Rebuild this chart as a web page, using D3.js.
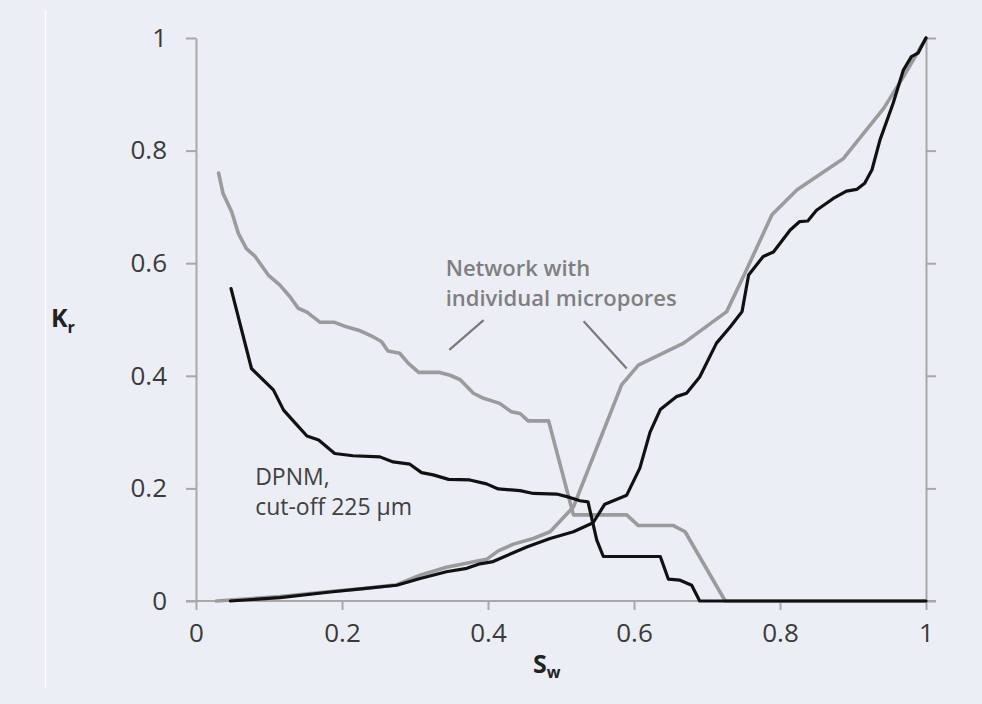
<!DOCTYPE html>
<html>
<head>
<meta charset="utf-8">
<script src="https://cdn.jsdelivr.net/npm/d3@7"></script>
<style>
  html, body { margin: 0; padding: 0; background: #eceef5; }
  svg { display: block; }
  text { font-family: "Open Sans", Lato, sans-serif; }
</style>
</head>
<body>
<svg id="chart" width="982" height="704"></svg>
<script>
// Relative permeability curves: [Sw, Kr] pairs
const netKrw = [[0.031,0.760],[0.037,0.724],[0.049,0.691],[0.058,0.653],[0.069,0.626],[0.081,0.612],[0.099,0.579],[0.115,0.561],[0.129,0.540],[0.140,0.520],[0.152,0.513],[0.170,0.495],[0.190,0.495],[0.206,0.487],[0.225,0.480],[0.243,0.469],[0.254,0.461],[0.263,0.444],[0.279,0.440],[0.291,0.422],[0.305,0.406],[0.334,0.406],[0.348,0.401],[0.362,0.393],[0.380,0.369],[0.394,0.360],[0.416,0.351],[0.432,0.336],[0.444,0.333],[0.455,0.320],[0.483,0.320],[0.517,0.153],[0.590,0.153],[0.606,0.134],[0.654,0.134],[0.670,0.123],[0.725,0],[1,0]];
const netKrnw = [[0.028,0],[0.115,0.008],[0.184,0.017],[0.229,0.022],[0.275,0.029],[0.307,0.046],[0.343,0.060],[0.362,0.065],[0.389,0.072],[0.398,0.074],[0.414,0.089],[0.435,0.101],[0.462,0.111],[0.485,0.123],[0.517,0.167],[0.583,0.384],[0.606,0.419],[0.668,0.458],[0.727,0.514],[0.754,0.588],[0.789,0.686],[0.823,0.730],[0.887,0.786],[0.942,0.875],[0.969,0.931],[1,1]];
const dpnmKrw = [[0.048,0.555],[0.076,0.413],[0.106,0.375],[0.120,0.339],[0.136,0.316],[0.152,0.293],[0.168,0.286],[0.190,0.262],[0.215,0.258],[0.252,0.256],[0.270,0.247],[0.293,0.243],[0.309,0.228],[0.325,0.224],[0.346,0.216],[0.375,0.215],[0.398,0.208],[0.414,0.199],[0.444,0.196],[0.462,0.191],[0.494,0.190],[0.512,0.184],[0.526,0.178],[0.537,0.176],[0.549,0.108],[0.558,0.079],[0.636,0.079],[0.647,0.039],[0.663,0.037],[0.679,0.028],[0.690,0],[1,0]];
const dpnmKrnw = [[0.047,0],[0.115,0.006],[0.184,0.016],[0.229,0.022],[0.275,0.028],[0.307,0.040],[0.343,0.052],[0.371,0.058],[0.389,0.066],[0.407,0.070],[0.453,0.096],[0.485,0.111],[0.517,0.123],[0.544,0.139],[0.560,0.172],[0.590,0.188],[0.608,0.236],[0.622,0.300],[0.636,0.340],[0.658,0.363],[0.672,0.369],[0.690,0.398],[0.713,0.458],[0.732,0.487],[0.748,0.514],[0.757,0.579],[0.777,0.612],[0.791,0.620],[0.814,0.659],[0.827,0.674],[0.838,0.675],[0.850,0.694],[0.873,0.715],[0.891,0.728],[0.905,0.731],[0.916,0.742],[0.926,0.766],[0.937,0.819],[0.955,0.884],[0.969,0.943],[0.980,0.967],[0.989,0.973],[1,1]];

const xTicks = [0, 0.2, 0.4, 0.6, 0.8, 1];
const yTicks = [0, 0.2, 0.4, 0.6, 0.8, 1];

// Annotation leaders and labels (data coordinates)
const netLeaders = [[[0.347,0.446],[0.394,0.499]], [[0.531,0.497],[0.590,0.413]]];
const netLabel = ["Network with", "individual micropores"];
const dpnmLabel = ["DPNM,", "cut-off 225 µm"];

const svg = d3.select("#chart");
const plotL = 196, plotR = 926, plotT = 38, plotB = 601;

const x = d3.scaleLinear().domain([0, 1]).range([plotL, plotR]);
const y = d3.scaleLinear().domain([0, 1]).range([plotB, plotT]);

// thin white frame edge on the left
svg.append("line").attr("x1", 45.5).attr("x2", 45.5).attr("y1", 10).attr("y2", 688)
  .attr("stroke", "#ffffff").attr("stroke-width", 1.5);

const axisColor = "#a8a8a8";
function styleAxis(g) {
  g.select(".domain").attr("stroke", axisColor).attr("stroke-width", 2);
  g.selectAll(".tick line").attr("stroke", axisColor).attr("stroke-width", 2);
  g.selectAll(".tick text").attr("fill", "#3a3a3a").style("font-size", "26px")
    .style("font-family", "'Open Sans', sans-serif");
}

// left axis
svg.append("g").attr("transform", `translate(${plotL},0)`)
  .call(d3.axisLeft(y).tickValues(yTicks).tickFormat(d3.format("~g")).tickSize(10).tickSizeOuter(0).tickPadding(19))
  .call(styleAxis);

// right axis (ticks only)
svg.append("g").attr("transform", `translate(${plotR},0)`)
  .call(d3.axisRight(y).tickValues(yTicks).tickFormat("").tickSize(10).tickSizeOuter(0))
  .call(styleAxis);

// bottom axis
const xg = svg.append("g").attr("transform", `translate(0,${plotB})`)
  .call(d3.axisBottom(x).tickValues(xTicks).tickFormat(d3.format("~g")).tickSize(9).tickSizeOuter(0).tickPadding(14))
  .call(styleAxis);
xg.select(".domain").attr("d", `M${plotL - 10},0H${plotR + 10}`);

// curves
const line = d3.line().x(d => x(d[0])).y(d => y(d[1])).curve(d3.curveLinear);
const grey = "#9b9b9b", black = "#111111";
[netKrw, netKrnw].forEach(s => svg.append("path").datum(s).attr("d", line)
  .attr("fill", "none").attr("stroke", grey).attr("stroke-width", 3.6)
  .attr("stroke-linejoin", "round").attr("stroke-linecap", "round"));
[dpnmKrw, dpnmKrnw].forEach(s => svg.append("path").datum(s).attr("d", line)
  .attr("fill", "none").attr("stroke", black).attr("stroke-width", 3.2)
  .attr("stroke-linejoin", "round").attr("stroke-linecap", "round"));

// leader lines
netLeaders.forEach(l => svg.append("line")
  .attr("x1", x(l[0][0])).attr("y1", y(l[0][1]))
  .attr("x2", x(l[1][0])).attr("y2", y(l[1][1]))
  .attr("stroke", "#7a7a7a").attr("stroke-width", 2.2));

// annotation text
const nt = svg.append("text").attr("x", x(0.342)).attr("y", y(0.577))
  .attr("fill", "#7f7f7f").style("font-size", "22px").style("font-weight", 600);
netLabel.forEach((t, i) => nt.append("tspan").attr("x", x(0.342)).attr("dy", i ? 30 : 0).text(t));

const dt = svg.append("text").attr("x", x(0.081)).attr("y", y(0.206))
  .attr("fill", "#404040").style("font-size", "23px");
dpnmLabel.forEach((t, i) => dt.append("tspan").attr("x", x(0.081)).attr("dy", i ? 30 : 0).text(t));

// axis titles
const ky = svg.append("text").attr("x", 51).attr("y", 327).attr("fill", "#222")
  .style("font-size", "25px").style("font-weight", 700);
ky.append("tspan").text("K");
ky.append("tspan").attr("dy", 6).style("font-size", "16px").text("r");

const sx = svg.append("text").attr("x", 533).attr("y", 673).attr("fill", "#222")
  .style("font-size", "25px").style("font-weight", 700);
sx.append("tspan").text("S");
sx.append("tspan").attr("dy", 5).style("font-size", "16px").text("w");
</script>
</body>
</html>
